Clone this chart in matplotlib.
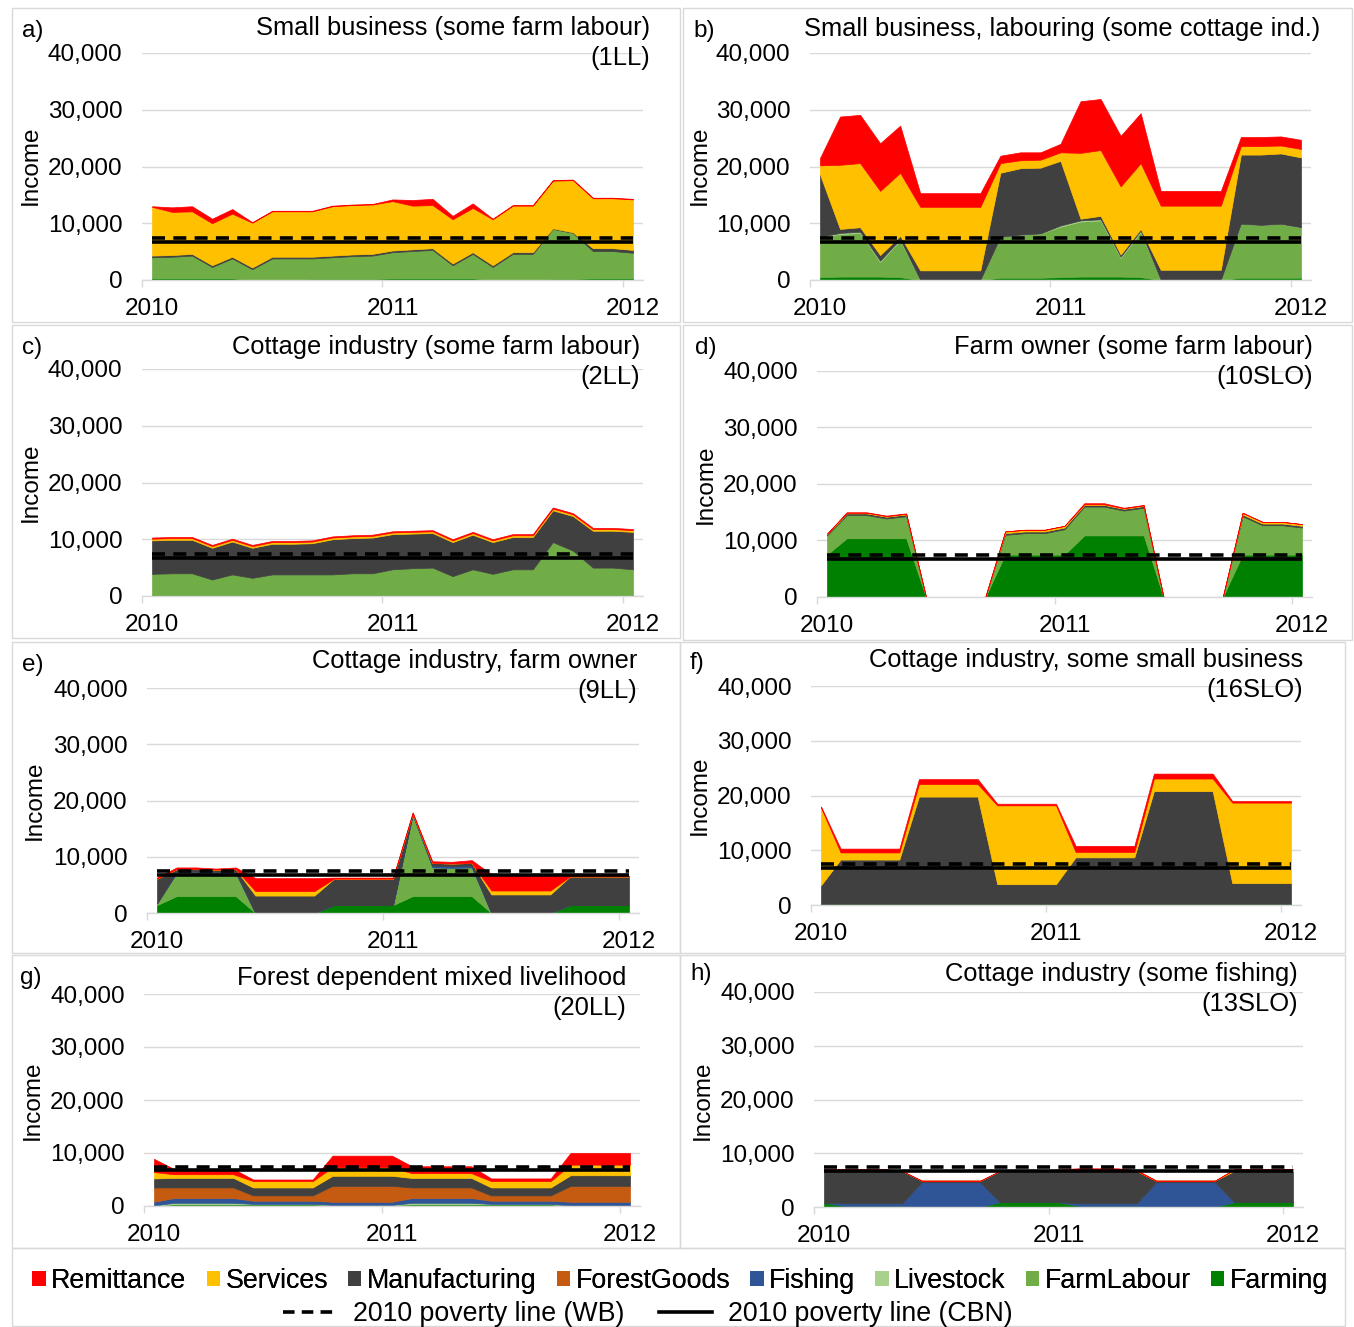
import numpy as np
import matplotlib
matplotlib.use('Agg')
import matplotlib.pyplot as plt
from matplotlib.patches import Rectangle, Patch
from matplotlib.lines import Line2D

plt.rcParams['font.family'] = ['Liberation Sans', 'DejaVu Sans']

W, H = 1354, 1327
fig = plt.figure(figsize=(W / 100, H / 100), dpi=100)

# ---------------- data ----------------
year_labels = ['2010', '2011', '2012']
year_month_index = [0, 12, 24]          # month index of each year label
n_months = 25                           # monthly points Jan 2010 .. Jan 2012
poverty_wb = 7450
poverty_cbn = 6700
y_ticks = [0, 10000, 20000, 30000, 40000]

series_names = ['Farming', 'FarmLabour', 'Livestock', 'Fishing', 'ForestGoods',
                'Manufacturing', 'Services', 'Remittance']
series_colors = ['#008000', '#70AD47', '#A9D18E', '#2F5597', '#C55A11',
                 '#404040', '#FFC000', '#FF0000']

# a) 1LL
a_farming = [300, 300, 300, 300, 300, 0, 0, 0, 200, 200, 200, 200, 300, 300, 300, 300, 300, 0, 0, 0, 200, 200, 300, 300, 300]
a_farmlabour = [3700, 3800, 4000, 2000, 3500, 1900, 3800, 3800, 3600, 3800, 4000, 4100, 4600, 4800, 5000, 2300, 4300, 2300, 4600, 4600, 8800, 8100, 4800, 4800, 4500]
a_manuf = [300, 300, 300, 300, 300, 300, 300, 300, 300, 300, 300, 300, 300, 300, 300, 300, 300, 300, 300, 300, 100, 100, 500, 500, 500]
a_services = [8600, 7600, 7500, 7400, 7600, 7900, 8000, 8000, 8000, 8700, 8700, 8700, 8700, 7700, 7600, 7800, 7800, 8100, 8200, 8200, 8400, 9200, 8800, 8800, 8900]
a_remit = [100, 800, 900, 800, 800, 100, 100, 100, 100, 100, 100, 100, 300, 1000, 1100, 600, 800, 100, 100, 100, 100, 100, 100, 100, 100]

# b) small business, labouring
b_farming = [500, 600, 600, 600, 500, 0, 0, 0, 0, 400, 400, 400, 500, 600, 600, 600, 500, 0, 0, 0, 0, 400, 400, 400, 400]
b_farmlabour = [7100, 7500, 7700, 2600, 6500, 0, 0, 0, 0, 7200, 7600, 7800, 8900, 9700, 9900, 3300, 8000, 0, 0, 0, 0, 9500, 9300, 9500, 8900]
b_livestock = [0, 200, 200, 200, 200, 0, 0, 0, 0, 0, 0, 0, 200, 200, 200, 200, 200, 0, 0, 0, 0, 0, 0, 0, 0]
b_manuf = [11000, 700, 800, 1000, 600, 1700, 1700, 1700, 1700, 11300, 11700, 11600, 11400, 300, 600, 400, 300, 1800, 1800, 1800, 1800, 12200, 12400, 12400, 12300]
b_services = [1600, 11300, 11300, 11300, 11100, 11200, 11200, 11200, 11200, 1700, 1400, 1400, 1500, 11600, 11600, 12000, 11600, 11300, 11300, 11300, 11300, 1500, 1500, 1400, 1500]
b_remit = [1300, 8500, 8500, 8400, 8300, 2400, 2400, 2400, 2400, 1300, 1400, 1300, 1500, 9100, 9000, 8900, 8800, 2600, 2600, 2600, 2600, 1600, 1600, 1600, 1600]

# c) 2LL
c_farming = [200, 200, 200, 200, 200, 200, 200, 200, 200, 200, 200, 200, 200, 200, 200, 200, 200, 200, 200, 200, 200, 200, 200, 200, 200]
c_farmlabour = [3700, 3800, 3800, 2700, 3600, 3000, 3600, 3600, 3600, 3600, 3800, 3800, 4500, 4700, 4800, 3300, 4500, 3700, 4500, 4500, 9300, 7800, 4800, 4800, 4500]
c_manuf = [5900, 5900, 5900, 5600, 5800, 5300, 5400, 5400, 5500, 6200, 6200, 6300, 6200, 6100, 6100, 6000, 6100, 5600, 5700, 5700, 5600, 6100, 6500, 6500, 6600]
c_services = [300, 300, 300, 300, 300, 300, 300, 300, 300, 300, 300, 300, 300, 300, 300, 300, 300, 300, 300, 300, 300, 300, 300, 300, 300]
c_remit = [200, 200, 200, 200, 200, 200, 200, 200, 200, 200, 200, 200, 200, 200, 200, 200, 200, 200, 200, 200, 200, 200, 200, 200, 200]

# d) 10SLO
d_farming = [7500, 10400, 10400, 10400, 10400, 0, 0, 0, 0, 7500, 7500, 7500, 7500, 10900, 10900, 10900, 10900, 0, 0, 0, 0, 7500, 7500, 7500, 7500]
d_farmlabour = [3400, 4100, 4100, 3500, 3900, 0, 0, 0, 0, 3500, 3800, 3800, 4500, 5100, 5100, 4400, 4900, 0, 0, 0, 0, 6800, 5200, 5200, 4800]
d_manuf = [200, 300, 300, 300, 300, 0, 0, 0, 0, 300, 300, 300, 300, 300, 300, 300, 300, 0, 0, 0, 0, 300, 300, 300, 300]
d_services = [100, 100, 100, 100, 100, 0, 0, 0, 0, 300, 300, 300, 300, 100, 100, 100, 100, 0, 0, 0, 0, 300, 300, 300, 300]
d_remit = [0, 100, 100, 100, 100, 0, 0, 0, 0, 0, 0, 0, 0, 200, 200, 100, 100, 0, 0, 0, 0, 0, 0, 0, 0]

# e) 9LL
e_farming = [1400, 3000, 3000, 3000, 3000, 0, 0, 0, 0, 1400, 1400, 1400, 1400, 3000, 3000, 3000, 3000, 0, 0, 0, 0, 1400, 1400, 1400, 1400]
e_farmlabour = [300, 4100, 4100, 4100, 4100, 0, 0, 0, 0, 0, 0, 0, 0, 14500, 5100, 5000, 5100, 0, 0, 0, 0, 0, 0, 0, 0]
e_fishing = [0, 200, 200, 200, 200, 0, 0, 0, 0, 0, 0, 0, 0, 0, 300, 300, 300, 0, 0, 0, 0, 0, 0, 0, 0]
e_manuf = [4400, 500, 500, 400, 500, 3100, 3100, 3100, 3100, 4700, 4700, 4700, 4700, 200, 500, 500, 500, 3300, 3300, 3300, 3300, 5100, 5100, 5100, 5100]
e_services = [0, 0, 0, 0, 0, 800, 800, 800, 800, 0, 0, 0, 0, 0, 0, 0, 0, 700, 700, 700, 700, 0, 0, 0, 0]
e_remit = [200, 300, 300, 200, 300, 2300, 2300, 2300, 2300, 200, 200, 200, 200, 200, 300, 300, 500, 2900, 2900, 2900, 2900, 100, 100, 100, 100]

# f) 16SLO
f_farming = [200, 200, 200, 200, 200, 200, 200, 200, 200, 200, 200, 200, 200, 200, 200, 200, 200, 200, 200, 200, 200, 200, 200, 200, 200]
f_manuf = [3400, 8100, 8100, 8100, 8100, 19600, 19600, 19600, 19600, 3600, 3600, 3600, 3600, 8500, 8500, 8500, 8500, 20600, 20600, 20600, 20600, 3800, 3800, 3800, 3800]
f_services = [14200, 1300, 1300, 1300, 1300, 2300, 2300, 2300, 2300, 14400, 14400, 14400, 14400, 1000, 1000, 1000, 1000, 2300, 2300, 2300, 2300, 14700, 14700, 14700, 14700]
f_remit = [200, 700, 700, 700, 700, 900, 900, 900, 900, 300, 300, 300, 300, 1100, 1100, 1100, 1100, 900, 900, 900, 900, 300, 300, 300, 300]

# g) 20LL
g_farming = [100, 300, 300, 300, 300, 300, 300, 300, 300, 200, 200, 200, 200, 300, 300, 300, 300, 300, 300, 300, 300, 100, 100, 100, 100]
g_livestock = [0, 300, 300, 300, 300, 100, 100, 100, 100, 0, 0, 0, 0, 300, 300, 300, 300, 100, 100, 100, 100, 0, 0, 0, 0]
g_fishing = [700, 900, 900, 900, 900, 600, 600, 600, 600, 600, 600, 600, 600, 900, 900, 900, 900, 600, 600, 600, 600, 700, 700, 700, 700]
g_forest = [2700, 2000, 2000, 2000, 2000, 1000, 1000, 1000, 1000, 3000, 3000, 3000, 3000, 2000, 2000, 2000, 2000, 1000, 1000, 1000, 1000, 3000, 3000, 3000, 3000]
g_manuf = [1700, 1800, 1800, 1800, 1800, 1500, 1500, 1500, 1500, 1900, 1900, 1900, 1900, 1800, 1800, 1800, 1800, 1500, 1500, 1500, 1500, 2000, 2000, 2000, 2000]
g_services = [1200, 700, 700, 700, 700, 1200, 1200, 1200, 1200, 1600, 1600, 1600, 1600, 900, 900, 900, 900, 1200, 1200, 1200, 1200, 2000, 2000, 2000, 2000]
g_remit = [2500, 1000, 1000, 1000, 1000, 300, 300, 300, 300, 2200, 2200, 2200, 2200, 1300, 1300, 1300, 1300, 500, 500, 500, 500, 2200, 2200, 2200, 2200]

# h) 13SLO
h_farming = [800, 200, 200, 200, 200, 0, 0, 0, 0, 900, 900, 900, 900, 200, 200, 200, 200, 0, 0, 0, 0, 900, 900, 900, 900]
h_fishing = [0, 500, 500, 500, 500, 4600, 4600, 4600, 4600, 0, 0, 0, 0, 500, 500, 500, 500, 4600, 4600, 4600, 4600, 0, 0, 0, 0]
h_manuf = [6000, 6000, 6000, 6000, 6000, 300, 300, 300, 300, 5800, 5800, 5800, 5800, 6000, 6000, 6000, 6000, 300, 300, 300, 300, 5800, 5800, 5800, 5800]
h_services = [0, 0, 0, 0, 0, 0, 0, 0, 0, 0, 0, 0, 0, 0, 0, 0, 0, 0, 0, 0, 0, 300, 300, 300, 300]
h_remit = [300, 400, 400, 400, 0, 0, 0, 0, 0, 0, 0, 0, 300, 500, 500, 500, 200, 0, 0, 0, 0, 0, 0, 0, 0]

panel_letters = ['a)', 'b)', 'c)', 'd)', 'e)', 'f)', 'g)', 'h)']
panel_titles = ['Small business (some farm labour)',
                'Small business, labouring (some cottage ind.)',
                'Cottage industry (some farm labour)',
                'Farm owner (some farm labour)',
                'Cottage industry, farm owner',
                'Cottage industry, some small business',
                'Forest dependent mixed livelihood',
                'Cottage industry (some fishing)']
panel_codes = ['(1LL)', '', '(2LL)', '(10SLO)', '(9LL)', '(16SLO)', '(20LL)', '(13SLO)']

panel_data = [
    {'Farming': a_farming, 'FarmLabour': a_farmlabour, 'Manufacturing': a_manuf,
     'Services': a_services, 'Remittance': a_remit},
    {'Farming': b_farming, 'FarmLabour': b_farmlabour, 'Livestock': b_livestock,
     'Manufacturing': b_manuf, 'Services': b_services, 'Remittance': b_remit},
    {'Farming': c_farming, 'FarmLabour': c_farmlabour, 'Manufacturing': c_manuf,
     'Services': c_services, 'Remittance': c_remit},
    {'Farming': d_farming, 'FarmLabour': d_farmlabour, 'Manufacturing': d_manuf,
     'Services': d_services, 'Remittance': d_remit},
    {'Farming': e_farming, 'FarmLabour': e_farmlabour, 'Fishing': e_fishing,
     'Manufacturing': e_manuf, 'Services': e_services, 'Remittance': e_remit},
    {'Farming': f_farming, 'Manufacturing': f_manuf, 'Services': f_services,
     'Remittance': f_remit},
    {'Farming': g_farming, 'Livestock': g_livestock, 'Fishing': g_fishing,
     'ForestGoods': g_forest, 'Manufacturing': g_manuf, 'Services': g_services,
     'Remittance': g_remit},
    {'Farming': h_farming, 'Fishing': h_fishing, 'Manufacturing': h_manuf,
     'Services': h_services, 'Remittance': h_remit},
]

# ---------------- layout (pixel positions) ----------------
# plot area: (first data x, last data x, top y (40,000), bottom y (0))
plot_px = [(152, 633, 53, 280), (820, 1301, 53, 280),
           (152, 633, 369, 596), (827, 1302, 371, 597),
           (157, 629, 688, 913), (821, 1291, 686, 905),
           (154, 630, 994, 1206), (824, 1293, 992, 1207)]
box_px = [(12, 8, 680, 322), (683, 8, 1352, 322),
          (12, 325, 680, 638), (683, 325, 1352, 640),
          (12, 642, 680, 953), (680, 642, 1345, 953),
          (12, 955, 680, 1248), (680, 955, 1345, 1248)]
letter_px = [(22, 31), (693, 31), (22, 348), (695, 348),
             (22, 665), (690, 663), (20, 978), (690, 974)]
title_px = [(650, 28), (1320, 29), (640, 347), (1313, 347),
            (637, 661), (1303, 660), (626, 978), (1298, 974)]
ylabel_px = [(31, 165), (700, 165), (31, 482), (706, 484),
             (35, 800), (700, 795), (33, 1100), (703, 1100)]

FS = 17.5
TFS = 18.4
LFS = 19.3
GRID = '#D9D9D9'

def fx(x):
    return x / W

def fy(y):
    return 1 - y / H

# panel frames
for (x0, y0, x1, y1) in box_px + [(12, 1248, 1345, 1326)]:
    fig.patches.append(Rectangle((fx(x0), fy(y1)), fx(x1) - fx(x0), fy(y0) - fy(y1),
                                 transform=fig.transFigure, fill=False,
                                 edgecolor=GRID, linewidth=1.0, zorder=0))

x = np.arange(n_months)
for k in range(8):
    xs, xe, yt, yb = plot_px[k]
    m = (xe - xs) / (n_months - 1)
    left = xs - 0.5 * m
    right = xe + 0.5 * m
    ax = fig.add_axes([fx(left), fy(yb), fx(right) - fx(left), fy(yt) - fy(yb)])
    data = panel_data[k]
    vals, cols = [], []
    for name, c in zip(series_names, series_colors):
        if name in data:
            vals.append(data[name])
            cols.append(c)
    ax.stackplot(x, *vals, colors=cols, linewidth=0.5, edgecolor='face', zorder=2)
    ax.plot([x[0], x[-1]], [poverty_wb, poverty_wb], color='black', lw=2.6,
            dashes=(3.6, 2.3), zorder=4, solid_capstyle='butt')
    ax.plot([x[0], x[-1]], [poverty_cbn, poverty_cbn], color='black', lw=2.6,
            zorder=4, solid_capstyle='butt')
    ax.set_xlim(-0.5, n_months - 0.5)
    ax.set_ylim(0, 40000)
    ax.set_yticks(y_ticks)
    ax.set_yticklabels([f'{v:,}' for v in y_ticks])
    ax.set_xticks(year_month_index)
    ax.set_xticklabels(year_labels)
    ax.set_xticks([i - 0.5 for i in year_month_index], minor=True)
    ax.tick_params(axis='x', which='major', length=0, pad=13, labelsize=FS)
    ax.tick_params(axis='x', which='minor', length=5, color=GRID, width=1)
    ax.tick_params(axis='y', length=0, pad=14, labelsize=FS)
    ax.grid(axis='y', color=GRID, linewidth=1.0, zorder=0)
    ax.set_axisbelow(True)
    for s in ['top', 'right', 'left']:
        ax.spines[s].set_visible(False)
    ax.spines['bottom'].set_color(GRID)
    ax.spines['bottom'].set_linewidth(1.0)
    ax.patch.set_alpha(0)

    lx, ly = letter_px[k]
    fig.text(fx(lx), fy(ly), panel_letters[k], fontsize=FS, ha='left', va='center')
    tx, ty = title_px[k]
    fig.text(fx(tx), fy(ty), panel_titles[k], fontsize=TFS, ha='right', va='center')
    if panel_codes[k]:
        fig.text(fx(tx), fy(ty + 30), panel_codes[k], fontsize=TFS, ha='right', va='center')
    yx, yy = ylabel_px[k]
    fig.text(fx(yx), fy(yy), 'Income', fontsize=FS, rotation=90, ha='center', va='center')

# legend
legend_order = ['Remittance', 'Services', 'Manufacturing', 'ForestGoods',
                'Fishing', 'Livestock', 'FarmLabour', 'Farming']
color_map = dict(zip(series_names, series_colors))
patch_handles = [Patch(facecolor=color_map[n], edgecolor='none', label=n) for n in legend_order]
leg1 = fig.legend(handles=patch_handles, loc='center', bbox_to_anchor=(fx(680), fy(1281)),
                  ncol=8, frameon=False, fontsize=LFS, handlelength=0.5, handleheight=0.5,
                  handletextpad=0.2, columnspacing=0.75, borderpad=0, borderaxespad=0)
line_handles = [Line2D([0], [0], color='black', lw=2.6, dashes=(3.2, 2.0),
                       label='2010 poverty line (WB)'),
                Line2D([0], [0], color='black', lw=2.6, label='2010 poverty line (CBN)')]
leg2 = fig.legend(handles=line_handles, loc='center', bbox_to_anchor=(fx(648), fy(1314)),
                  ncol=2, frameon=False, fontsize=LFS, handlelength=2.0,
                  handletextpad=0.6, columnspacing=1.3, borderpad=0, borderaxespad=0)
fig.add_artist(leg1)

fig.savefig('out.png', dpi=100)
